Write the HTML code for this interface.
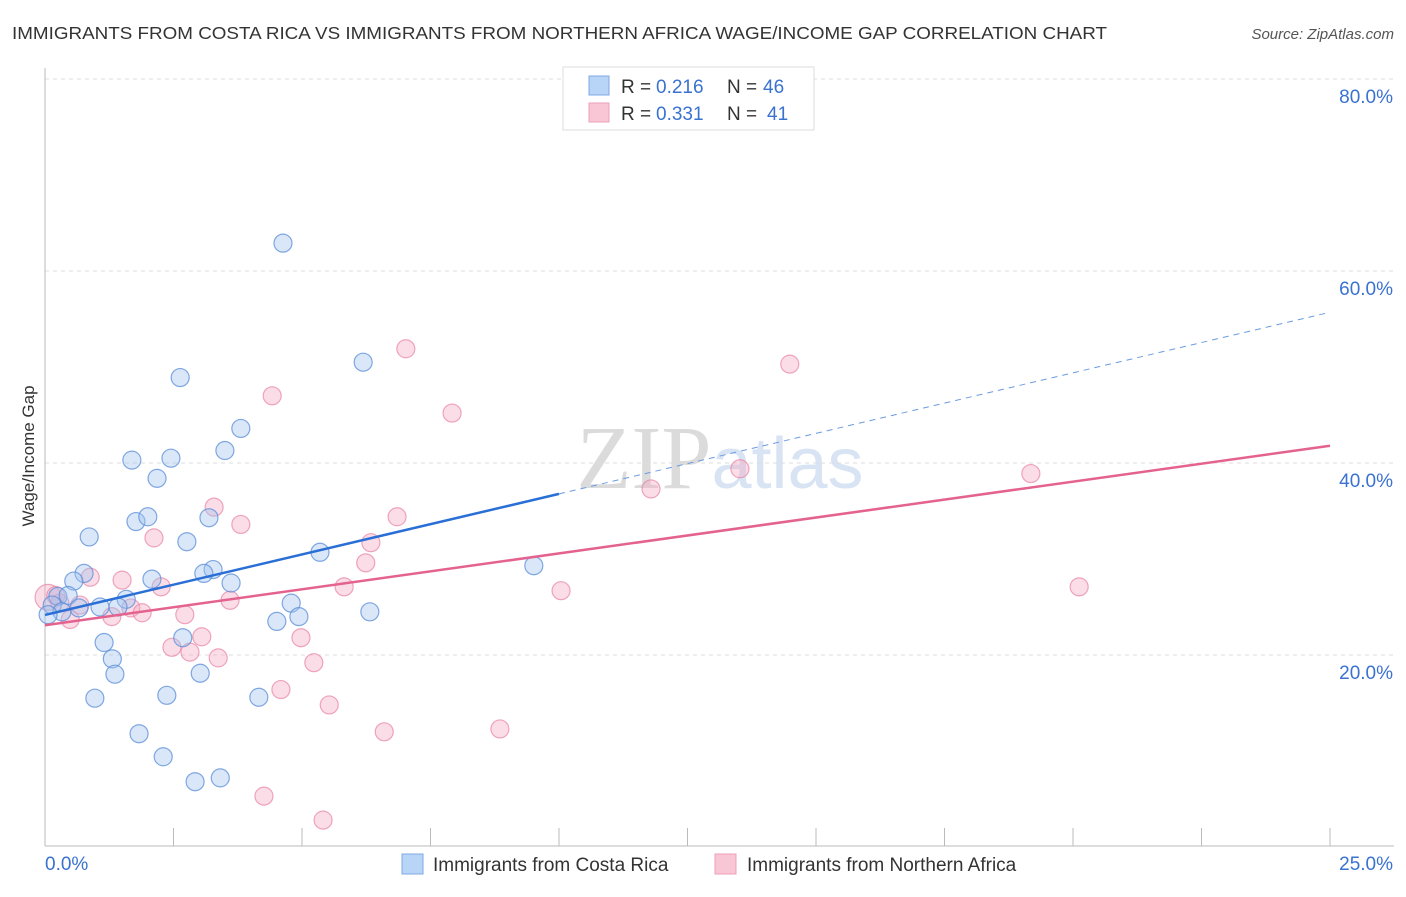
<!DOCTYPE html>
<html><head><meta charset="utf-8"><style>
body{margin:0;background:#fff;font-family:"Liberation Sans",sans-serif}
svg text{font-family:"Liberation Sans",sans-serif}
</style></head><body>
<svg id="chart" width="1406" height="892" xmlns="http://www.w3.org/2000/svg">
<text x="12" y="39" font-size="17.5" fill="#333" textLength="1095" lengthAdjust="spacingAndGlyphs">IMMIGRANTS FROM COSTA RICA VS IMMIGRANTS FROM NORTHERN AFRICA WAGE/INCOME GAP CORRELATION CHART</text>
<text x="1394" y="39" font-size="15" fill="#555" text-anchor="end" font-style="italic">Source: ZipAtlas.com</text>
<text x="720" y="488" font-size="90" text-anchor="middle" fill="#ddd" opacity="0.7"><tspan font-family="Liberation Serif" fill="#ccc">ZIP</tspan><tspan fill="#c8d8ee" font-size="72">atlas</tspan></text>
<g id="grid"></g>
<g id="axes"></g>
<g id="pts"></g>
<g id="lines"></g>
<text transform="translate(34,456) rotate(-90)" font-size="17" fill="#333" text-anchor="middle">Wage/Income Gap</text>
<g>
<rect x="563" y="67" width="251" height="63" fill="#fff" stroke="#ddd"/>
<rect x="589" y="76" width="20" height="19" fill="#b8d4f6" stroke="#7fa9e6"/>
<rect x="589" y="103" width="20" height="19" fill="#f8c6d5" stroke="#eda0b8"/>
<text x="621" y="93" font-size="19" fill="#333">R = </text><text x="656" y="93" font-size="19" fill="#3a72d0">0.216</text>
<text x="727" y="93" font-size="19" fill="#333">N = </text><text x="763" y="93" font-size="19" fill="#3a72d0">46</text>
<text x="621" y="120" font-size="19" fill="#333">R = </text><text x="656" y="120" font-size="19" fill="#3a72d0">0.331</text>
<text x="727" y="120" font-size="19" fill="#333">N = </text><text x="767" y="120" font-size="19" fill="#3a72d0">41</text>
</g>
<g>
<rect x="402" y="854" width="21" height="20" fill="#b8d4f6" stroke="#7fa9e6"/>
<text x="433" y="871" font-size="19" fill="#333">Immigrants from Costa Rica</text>
<rect x="715" y="854" width="21" height="20" fill="#f8c6d5" stroke="#eda0b8"/>
<text x="747" y="871" font-size="19" fill="#333">Immigrants from Northern Africa</text>
</g>
</svg>
<script>
const yTicks=[20,40,60,80];
const yTickLabels=["20.0%","40.0%","60.0%","80.0%"];
const xTicks=[0,2.5,5,7.5,10,12.5,15,17.5,20,22.5,25];
const xMinLabel="0.0%", xMaxLabel="25.0%";
const blueX=[4.63,6.19,2.63,3.81,3.50,1.69,2.45,2.18,3.19,1.77,2.00,0.86,2.76,5.35,9.51,0.76,0.56,3.27,3.09,2.08,3.62,0.25,0.45,1.58,1.07,1.42,0.66,4.79,0.14,0.33,0.06,4.94,6.32,4.51,2.68,1.15,1.31,1.36,3.02,0.97,2.37,4.16,1.83,2.30,2.92,3.41];
const blueY=[62.9,50.5,48.9,43.6,41.3,40.3,40.5,38.4,34.3,33.9,34.4,32.3,31.8,30.7,29.3,28.5,27.7,28.9,28.5,27.9,27.5,26.1,26.2,25.8,25.0,25.0,24.9,25.4,25.2,24.5,24.2,24.0,24.5,23.5,21.8,21.3,19.6,18.0,18.1,15.5,15.8,15.6,11.8,9.4,6.8,7.2];
const pinkX=[7.02,14.49,4.42,7.92,13.52,19.18,11.79,3.29,6.85,3.81,2.12,6.34,6.24,20.12,5.82,10.04,1.50,0.88,2.26,3.60,0.06,0.29,1.67,1.30,1.89,0.49,2.72,3.05,4.98,2.47,2.82,3.37,5.23,4.59,5.53,6.60,8.85,4.26,5.41,0.68,0.21];
const pinkY=[51.9,50.3,47.0,45.2,39.4,38.9,37.3,35.4,34.4,33.6,32.2,31.7,29.6,27.1,27.1,26.7,27.8,28.1,27.1,25.7,26.0,25.4,24.9,24.0,24.4,23.7,24.2,21.9,21.8,20.8,20.3,19.7,19.2,16.4,14.8,12.0,12.3,5.3,2.8,25.2,26.2];
const blueFit=[24.17,55.7], pinkFit=[23.1,41.8];
const X=v=>45+v/25*1285, Y=v=>847-v*9.6;
const NS="http://www.w3.org/2000/svg";
function mk(p,t,a){const e=document.createElementNS(NS,t);for(const k in a)e.setAttribute(k,a[k]);p.appendChild(e);return e;}
const grid=document.getElementById('grid'),axes=document.getElementById('axes'),pts=document.getElementById('pts'),lines=document.getElementById('lines');
yTicks.forEach((v,i)=>{
 const l=mk(grid,'line',{x1:45,x2:1394,y1:Y(v),y2:Y(v),stroke:'#ddd','stroke-dasharray':'4,4'});
 
 
 const t=mk(grid,'text',{x:1393,y:Y(v)+24,'font-size':19,fill:'#3a72d0','text-anchor':'end'});t.textContent=yTickLabels[i];
 
 
});
const ax=mk(axes,'line',{x1:45,x2:45,y1:68,y2:846,stroke:'#bbb'});


const bx=mk(axes,'line',{x1:45,x2:1394,y1:846,y2:846,stroke:'#bbb'});


xTicks.forEach(v=>{const t=mk(axes,'line',{x1:X(v),x2:X(v),y1:828,y2:846,stroke:'#bbb'});
 
 });
let t1=mk(axes,'text',{x:45,y:870,'font-size':19,fill:'#3a72d0'});t1.textContent=xMinLabel;


let t2=mk(axes,'text',{x:1393,y:870,'font-size':19,fill:'#3a72d0','text-anchor':'end'});t2.textContent=xMaxLabel;


pinkX.forEach((x,i)=>{const c=mk(pts,'circle',{cx:X(x),cy:Y(pinkY[i]),r:(i==20?13:9),fill:'rgba(246,170,195,0.4)',stroke:'rgba(232,130,162,0.7)','stroke-width':1.2});
 
 });
blueX.forEach((x,i)=>{const c=mk(pts,'circle',{cx:X(x),cy:Y(blueY[i]),r:9,fill:'rgba(160,196,240,0.4)',stroke:'rgba(90,140,215,0.75)','stroke-width':1.2});
 
 });
const bAt=x=>blueFit[0]+(blueFit[1]-blueFit[0])*x/25;
let l1=mk(lines,'line',{x1:X(0),y1:Y(bAt(0)),x2:X(10),y2:Y(bAt(10)),stroke:'#2a6fd6','stroke-width':2.5});


let l2=mk(lines,'line',{x1:X(10),y1:Y(bAt(10)),x2:X(25),y2:Y(bAt(25)),stroke:'#6b9be0','stroke-width':1,'stroke-dasharray':'6,5'});


let l3=mk(lines,'line',{x1:X(0),y1:Y(pinkFit[0]),x2:X(25),y2:Y(pinkFit[1]),stroke:'#e4628e','stroke-width':2.5});


</script>
</body></html>
